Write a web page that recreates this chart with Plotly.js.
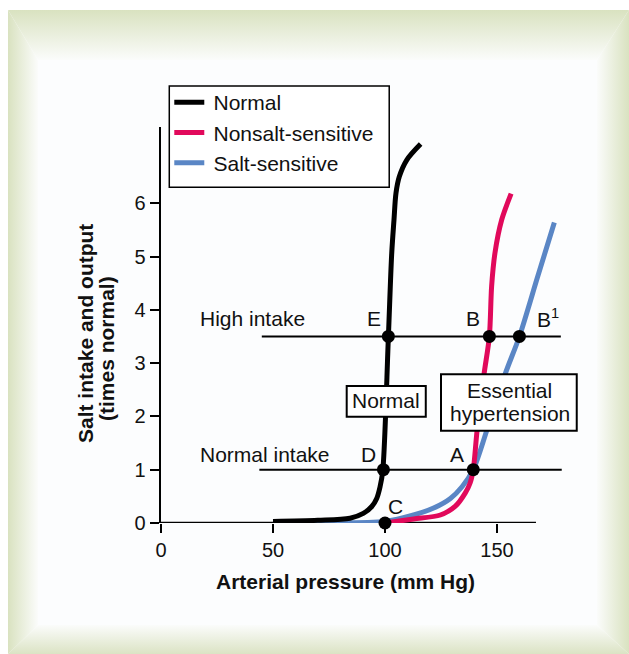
<!DOCTYPE html>
<html>
<head>
<meta charset="utf-8">
<script src="https://cdn.plot.ly/plotly-3.0.1.min.js"></script>
<style>
  html, body { margin: 0; padding: 0; background: #ffffff; }
  #wrap { position: relative; width: 629px; height: 654px; overflow: hidden; }
  #bg { position: absolute; left: 0; top: 0; }
  #chart { position: absolute; left: 0; top: 0; width: 629px; height: 654px; }
</style>
</head>
<body>
<div id="wrap">
  <svg id="bg" width="629" height="654" xmlns="http://www.w3.org/2000/svg">
    <defs>
      <linearGradient id="gt" x1="0" y1="0" x2="0" y2="1">
        <stop offset="0" stop-color="#d9e2c0"/><stop offset="1" stop-color="#fbfcfb"/>
      </linearGradient>
      <linearGradient id="gb" x1="0" y1="1" x2="0" y2="0">
        <stop offset="0" stop-color="#dbe3c4"/><stop offset="1" stop-color="#fbfcfb"/>
      </linearGradient>
      <linearGradient id="gl" x1="0" y1="0" x2="1" y2="0">
        <stop offset="0" stop-color="#d9e2c0"/><stop offset="1" stop-color="#fbfcfb"/>
      </linearGradient>
      <linearGradient id="gr" x1="1" y1="0" x2="0" y2="0">
        <stop offset="0" stop-color="#d9e2c0"/><stop offset="1" stop-color="#fbfcfb"/>
      </linearGradient>
    </defs>
    <rect x="8" y="10" width="621" height="644" fill="#fcfdfe"/>
    <polygon points="8,10 629,10 597,60 38,60" fill="url(#gt)"/>
    <polygon points="8,654 629,654 597,625 38,625" fill="url(#gb)"/>
    <polygon points="8,10 38,60 38,625 8,654" fill="url(#gl)"/>
    <polygon points="629,10 597,60 597,625 629,654" fill="url(#gr)"/>
  </svg>
  <div id="chart"></div>
</div>
<script>
// ---- data ----
const normalX = [50, 70, 84.4, 90.3, 94.1, 96.3, 97.8, 99.0, 101.5, 103.0, 104.0, 104.9, 106.4, 109.7, 115.9];
const normalY = [0.03, 0.05, 0.09, 0.18, 0.31, 0.46, 0.68, 0.98, 3.48, 5.06, 5.68, 6.19, 6.50, 6.81, 7.11];

const nonsaltX = [100, 112.8, 124.7, 131.3, 135.8, 138, 139.4, 141.1, 144.2, 146.6, 147.6, 149.1, 152.1, 156.3];
const nonsaltY = [0, 0.075, 0.15, 0.31, 0.56, 0.75, 1, 1.73, 2.79, 3.5, 4.44, 5.07, 5.69, 6.18];

const saltX = [50, 100, 112.8, 121.7, 129.2, 134.4, 139.4, 145.4, 153.6, 160, 168, 175.6];
const saltY = [0.02, 0.03, 0.15, 0.28, 0.46, 0.68, 1, 1.73, 2.79, 3.5, 4.6, 5.64];

const highIntake = 3.5;
const normalIntake = 1;
const highIntakeX = [45, 178.5];
const normalIntakeX = [43.9, 178.9];

const pointLabels = ["E", "B", "B<sup>1</sup>", "D", "A", "C"];
const pointX = [101.5, 146.6, 160, 99.3, 139.4, 100];
const pointY = [3.5, 3.5, 3.5, 1, 1, 0];

const xTicks = [0, 50, 100, 150];
const yTicks = [0, 1, 2, 3, 4, 5, 6];
const xAxisEnd = 167.4;

const seriesNames = ["Normal", "Nonsalt-sensitive", "Salt-sensitive"];
const colors = {normal: "#000000", nonsalt: "#e1095b", salt: "#5a86c5"};

// ---- styling ----
const FONT = "Arial, 'Liberation Sans', sans-serif";
const SP = "\u2009";

const traces = [
  {x: highIntakeX, y: [highIntake, highIntake], mode: "lines", line: {color: "#000", width: 2}, showlegend: false, hoverinfo: "skip"},
  {x: normalIntakeX, y: [normalIntake, normalIntake], mode: "lines", line: {color: "#000", width: 2}, showlegend: false, hoverinfo: "skip"},
  {x: saltX, y: saltY, name: SP + seriesNames[2], mode: "lines", line: {color: colors.salt, width: 5, shape: "spline", smoothing: 0.8}, legendgroup: "c", legendrank: 3},
  {x: nonsaltX, y: nonsaltY, name: SP + seriesNames[1], mode: "lines", line: {color: colors.nonsalt, width: 5, shape: "spline", smoothing: 0.8}, legendgroup: "b", legendrank: 2},
  {x: normalX, y: normalY, name: SP + seriesNames[0], mode: "lines", line: {color: colors.normal, width: 5, shape: "spline", smoothing: 0.9}, legendgroup: "a", legendrank: 1},
  {x: pointX, y: pointY, mode: "markers", marker: {color: "#000", size: 13}, cliponaxis: false, showlegend: false, hoverinfo: "skip"}
];

const annotations = [
  {x: 94.9, y: 3.83, text: pointLabels[0]},
  {x: 139.3, y: 3.84, text: pointLabels[1]},
  {x: 167.1, y: 3.84, text: pointLabels[2], xanchor: "left"},
  {x: 92.6, y: 1.29, text: pointLabels[3]},
  {x: 132.1, y: 1.29, text: pointLabels[4]},
  {x: 104.6, y: 0.31, text: pointLabels[5]},
  {x: 40.9, y: 3.83, text: "High intake"},
  {x: 46.5, y: 1.29, text: "Normal intake"},
  {x: 100.6, y: 2.29, text: "Normal"},
  {x: 155.8, y: 2.495, text: "Essential"},
  {x: 155.8, y: 2.058, text: "hypertension"}
].map(a => Object.assign({xref: "x", yref: "y", showarrow: false, xanchor: "center", yanchor: "middle",
  font: {family: FONT, size: 21, color: "#111"}}, a));

annotations.push(
  {xref: "paper", yref: "paper", x: 0.4348, y: -0.148, text: "<b>Arterial pressure (mm Hg)</b>", showarrow: false,
   xanchor: "center", yanchor: "middle", font: {family: FONT, size: 21, color: "#111"}},
  {xref: "paper", yref: "paper", x: -0.1765, y: 0.4798, text: "<b>Salt intake and output</b>", showarrow: false, textangle: -90,
   xanchor: "center", yanchor: "middle", font: {family: FONT, size: 21, color: "#111"}},
  {xref: "paper", yref: "paper", x: -0.127, y: 0.4394, text: "<b>(times normal)</b>", showarrow: false, textangle: -90,
   xanchor: "center", yanchor: "middle", font: {family: FONT, size: 21, color: "#111"}}
);

const shapes = [
  {type: "line", xref: "x", yref: "y", x0: 0, x1: xAxisEnd, y0: 0, y1: 0, line: {color: "#000", width: 2.5}, layer: "below"},
  {type: "rect", xref: "x", yref: "y", x0: 82.9, x1: 118.2, y0: 1.994, y1: 2.57, fillcolor: "#fff", line: {color: "#000", width: 2}, layer: "above"},
  {type: "rect", xref: "x", yref: "y", x0: 125.0, x1: 185.6, y0: 1.732, y1: 2.79, fillcolor: "#fff", line: {color: "#000", width: 2}, layer: "above"},
  // legend frame
  {type: "rect", xref: "paper", yref: "paper", x0: 0.0195, x1: 0.537, y0: 0.8477, y1: 1.1035, fillcolor: "#fff", line: {color: "#000", width: 1.5}, layer: "above"}
];

const layout = {
  width: 629, height: 654,
  margin: {l: 161, r: 43, t: 127, b: 131},
  paper_bgcolor: "rgba(0,0,0,0)", plot_bgcolor: "rgba(0,0,0,0)",
  font: {family: FONT, size: 20, color: "#111"},
  xaxis: {range: [0, 425 / 2.24], tickvals: xTicks, ticktext: xTicks.map(String), ticks: "outside", ticklen: 9, tickwidth: 2, tickcolor: "#000",
          showline: false, showgrid: false, zeroline: false, tickfont: {size: 20, family: FONT, color: "#111"}, fixedrange: true},
  yaxis: {range: [0, 7.43], tickvals: yTicks, ticktext: yTicks.map(String), ticks: "outside", ticklen: 9, tickwidth: 2, tickcolor: "#000",
          showline: true, linecolor: "#000", linewidth: 2.5, showgrid: false, zeroline: false, tickfont: {size: 20, family: FONT, color: "#111"}, fixedrange: true},
  showlegend: true,
  legend: {x: 0.0195, y: 1.1136, xanchor: "left", yanchor: "top", bgcolor: "rgba(0,0,0,0)", borderwidth: 0,
           font: {family: FONT, size: 21, color: "#111"}, tracegroupgap: 0, itemwidth: 30},
  annotations: annotations,
  shapes: shapes
};

Plotly.newPlot("chart", traces, layout, {displayModeBar: false, staticPlot: true});
</script>
</body>
</html>
